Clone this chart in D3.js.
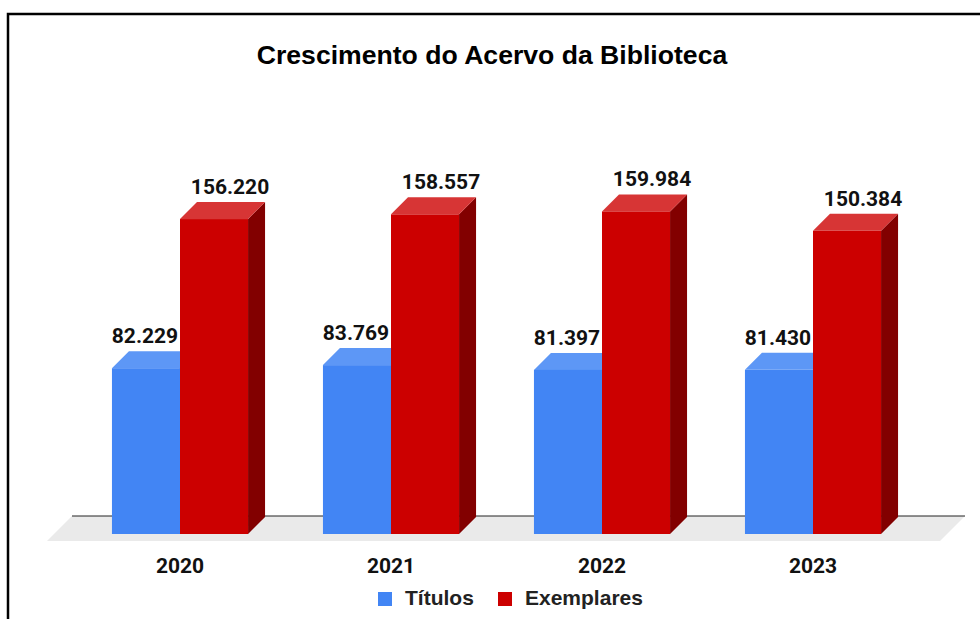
<!DOCTYPE html>
<html>
<head>
<meta charset="utf-8">
<title>Crescimento do Acervo da Biblioteca</title>
<script src="https://d3js.org/d3.v7.min.js"></script>
<style>
body { margin: 0; background: #fff; }
svg text { font-family: Roboto, "Liberation Sans", Arial, sans-serif; }
</style>
</head>
<body>
<div id="chart"></div>
<script>
// data
var years = ["2020", "2021", "2022", "2023"];
var seriesNames = ["Títulos", "Exemplares"];
var titulos = [82229, 83769, 81397, 81430];
var exemplares = [156220, 158557, 159984, 150384];
var fmt = d3.format(",");  // pt-BR style, swapped later

var W = 980, H = 619;
var depth = 17; // 3d offset

var colors = {
  "Títulos":    {front: "#4285f4", top: "#5d97f6", side: "#2f62b8"},
  "Exemplares": {front: "#cc0000", top: "#d73535", side: "#820000"}
};

var svg = d3.select("#chart").append("svg")
    .attr("width", W)
    .attr("height", H);

// outer frame (cropped screenshot, only top and left edges visible)
svg.append("path")
    .attr("d", "M8,640 L8,14 L990,14")
    .attr("fill", "none")
    .attr("stroke", "#000")
    .attr("stroke-width", 2.5);

// scales
var x = d3.scaleBand()
    .domain(years)
    .range([74.5, 918.5])
    .paddingInner(0.355)
    .paddingOuter(0.1775);

var xs = d3.scaleBand()
    .domain(seriesNames)
    .range([0, x.bandwidth()]);

var y = d3.scaleLinear()
    .domain([0, 200000])
    .range([534, 130.8]);

var y0 = y(0);

// floor
var fl = x.range()[0] - 27.5, fr = x.range()[1] + 21.5;
svg.append("polygon")
    .attr("points", [
      [fl + 25, y0 - 18], [fr + 25, y0 - 18],
      [fr, y0 + 7], [fl, y0 + 7]
    ].map(function(p) { return p.join(","); }).join(" "))
    .attr("fill", "#eaeaea");

svg.append("line")
    .attr("x1", fl + 25).attr("x2", fr + 25)
    .attr("y1", y0 - 18).attr("y2", y0 - 18)
    .attr("stroke", "#222")
    .attr("stroke-width", 1);

// build rows
var rows = [];
years.forEach(function(yr, i) {
  rows.push({year: yr, key: "Títulos", value: titulos[i]});
  rows.push({year: yr, key: "Exemplares", value: exemplares[i]});
});

function ptFmt(v) { return fmt(v).replace(/,/g, "."); }

var bars = svg.selectAll("g.bar")
    .data(rows)
    .enter().append("g")
    .attr("class", "bar");

bars.each(function(d) {
  var g = d3.select(this);
  var x0 = x(d.year) + xs(d.key);
  var w = xs.bandwidth();
  var top = y(d.value);
  var c = colors[d.key];

  // side
  g.append("polygon")
      .attr("points", [[x0 + w, top], [x0 + w + depth, top - depth],
                       [x0 + w + depth, y0 - depth], [x0 + w, y0]].join(" "))
      .attr("fill", c.side);
  // top
  g.append("polygon")
      .attr("points", [[x0, top], [x0 + depth, top - depth],
                       [x0 + w + depth, top - depth], [x0 + w, top]].join(" "))
      .attr("fill", c.top);
  // front
  g.append("rect")
      .attr("x", x0)
      .attr("y", top)
      .attr("width", w)
      .attr("height", y0 - top)
      .attr("fill", c.front);
});

// value labels
svg.selectAll("text.val")
    .data(rows)
    .enter().append("text")
    .attr("class", "val")
    .attr("x", function(d) {
      return x(d.year) + xs(d.key) + xs.bandwidth() / 2 + (d.key === "Exemplares" ? 16 : -1);
    })
    .attr("y", function(d) { return y(d.value) - depth - 8; })
    .attr("text-anchor", "middle")
    .attr("font-size", "21px")
    .attr("font-weight", "bold")
    .attr("fill", "#111")
    .text(function(d) { return ptFmt(d.value); });

// x axis labels
svg.selectAll("text.year")
    .data(years)
    .enter().append("text")
    .attr("class", "year")
    .attr("x", function(d) { return x(d) + x.bandwidth() / 2; })
    .attr("y", 573)
    .attr("text-anchor", "middle")
    .attr("font-size", "21px")
    .attr("font-weight", "bold")
    .attr("fill", "#111")
    .text(function(d) { return d; });

// title
svg.append("text")
    .attr("x", 492)
    .attr("y", 64)
    .attr("text-anchor", "middle")
    .style("font-family", "'Liberation Sans', Arial, sans-serif")
    .attr("font-size", "26.6px")
    .attr("font-weight", "bold")
    .attr("fill", "#000")
    .text("Crescimento do Acervo da Biblioteca");

// legend
var legend = svg.append("g").attr("transform", "translate(378,591)");
var lx = [0, 120];
seriesNames.forEach(function(s, i) {
  legend.append("rect")
      .attr("x", lx[i]).attr("y", 1)
      .attr("width", 14).attr("height", 14)
      .attr("fill", colors[s].front);
  legend.append("text")
      .attr("x", lx[i] + 27)
      .attr("y", 14)
      .style("font-family", "'Liberation Sans', Arial, sans-serif")
      .attr("font-size", "21px")
      .attr("font-weight", "bold")
      .attr("fill", "#222")
      .text(s);
});
</script>
</body>
</html>
